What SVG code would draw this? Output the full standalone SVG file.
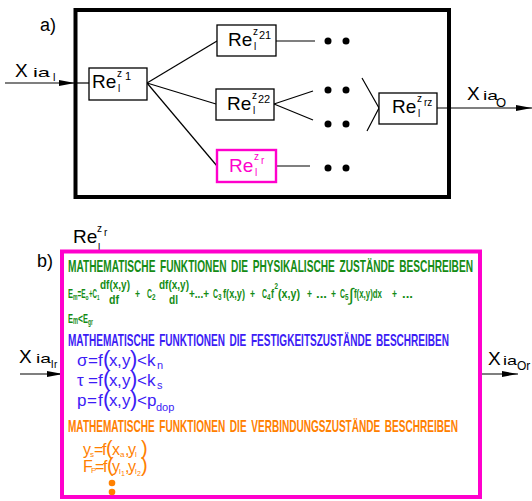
<svg xmlns="http://www.w3.org/2000/svg" width="532" height="501" viewBox="0 0 532 501">
<defs>
<style>
text{font-family:"Liberation Sans",Arial,sans-serif;fill:#000}
.n{font-family:"Liberation Sans",Arial,sans-serif}
.ttl{font-size:16.5px;font-weight:bold}
.box{fill:#fff;stroke:#000;stroke-width:1.3}
.mbox{fill:#fff;stroke:#ff00cc;stroke-width:2.4}
.ln{stroke:#000;stroke-width:1.2;fill:none}
.re{font-size:19px}
.sz{font-size:10px}
.sn{font-size:11px}
text.g,.g text{fill:#158c15}
text.b,.b text{fill:#3c1cf5}
text.o,.o text{fill:#ff8000}
text.m{fill:#ff00cc}
.dot{fill:#000}
</style>
<marker id="ah" markerWidth="16" markerHeight="7" refX="16" refY="3.5" orient="auto" markerUnits="userSpaceOnUse"><path d="M0,0.6 L16,3.5 L0,6.4 Z" fill="#000"/></marker>
</defs>
<rect x="0" y="0" width="532" height="501" fill="#fff"/>

<!-- part a -->
<text x="40" y="31" font-size="18">a)</text>
<rect id="frameA" x="75.5" y="10" width="373.5" height="187" fill="none" stroke="#000" stroke-width="4"/>

<g id="connectors">
<path class="ln" d="M5,83 H75" marker-end="url(#ah)"/>
<path class="ln" d="M75,83 H89"/>
<path class="ln" d="M147,83 L217,41"/>
<path class="ln" d="M147,83 L216,104"/>
<path class="ln" d="M147,83 L217,166"/>
<path class="ln" d="M276,41 H315"/>
<path class="ln" d="M274,104 L313,91"/>
<path class="ln" d="M274,104 L313,120"/>
<path class="ln" d="M276,166 H310"/>
<path class="ln" d="M362,78 L379,108 L367,131"/>
<path class="ln" d="M437,108 H532" marker-end="url(#ah)"/>
<path class="ln" d="M20,374 H63" marker-end="url(#ah)"/>
<path class="ln" d="M481,374 H518" marker-end="url(#ah)"/>
</g>

<g id="inA">
<text x="15" y="77" font-size="19">X</text>
<text x="33" y="77" font-size="13" textLength="17" lengthAdjust="spacingAndGlyphs">ia</text>
<text x="53" y="81" font-size="11">l</text>
</g>
<g id="outA">
<text x="467" y="100" font-size="19">X</text>
<text x="483" y="100" font-size="13" textLength="15" lengthAdjust="spacingAndGlyphs">ia</text>
<text x="496" y="107" font-size="13">O</text>
</g>

<g id="re1">
<rect class="box" x="89" y="68" width="58" height="32"/>
<text class="re" x="92" y="88">Re</text>
<text class="sz" x="117" y="77">z</text>
<text class="sn" x="125" y="80">1</text>
<text class="sz" x="118" y="92">l</text>
</g>
<g id="re21">
<rect class="box" x="217" y="25" width="59" height="31"/>
<text class="re" x="228" y="46">Re</text>
<text class="sz" x="253" y="35">z</text>
<text class="sn" x="259" y="39">21</text>
<text class="sz" x="254" y="50">l</text>
</g>
<g id="re22">
<rect class="box" x="216" y="89" width="58" height="31"/>
<text class="re" x="227" y="110">Re</text>
<text class="sz" x="252" y="99">z</text>
<text class="sn" x="258" y="103">22</text>
<text class="sz" x="253" y="114">l</text>
</g>
<g id="reR">
<rect class="mbox" x="217" y="150" width="59" height="32"/>
<text class="re m" x="229" y="172">Re</text>
<text class="sz m" x="254" y="160">z</text>
<text class="sz m" x="261" y="164">r</text>
<text class="sz m" x="255" y="176">l</text>
</g>
<g id="reRZ">
<rect class="box" x="379" y="93" width="58" height="31"/>
<text class="re" x="392" y="113">Re</text>
<text class="sz" x="417" y="102">z</text>
<text class="sz" x="424" y="106">rz</text>
<text class="sz" x="418" y="117">l</text>
</g>
<g id="dots">
<circle class="dot" cx="328" cy="41" r="3.5"/><circle class="dot" cx="346" cy="41" r="3.5"/>
<circle class="dot" cx="328" cy="90" r="3.5"/><circle class="dot" cx="346" cy="90" r="3.5"/>
<circle class="dot" cx="328" cy="124" r="3.5"/><circle class="dot" cx="346" cy="124" r="3.5"/>
<circle class="dot" cx="328" cy="168" r="3.5"/><circle class="dot" cx="346" cy="168" r="3.5"/>
</g>

<!-- part b -->
<text x="37" y="267" font-size="18">b)</text>
<g id="reRlabel">
<text class="re" x="73" y="243">Re</text>
<text class="sz" x="97" y="232">z</text>
<text class="sz" x="104" y="236">r</text>
<text class="sz" x="98" y="251">l</text>
</g>
<g id="inB">
<text x="19" y="363" font-size="19">X</text>
<text x="36" y="363" font-size="13" textLength="15" lengthAdjust="spacingAndGlyphs">ia</text>
<text x="51" y="368" font-size="11">l</text>
<text x="54" y="368" font-size="10">r</text>
</g>
<g id="outB">
<text x="488" y="365" font-size="19">X</text>
<text x="503" y="365" font-size="13" textLength="14" lengthAdjust="spacingAndGlyphs">ia</text>
<text x="517" y="370" font-size="12">Or</text>
</g>

<g id="blockB">
<rect x="62" y="251.5" width="418" height="245.5" fill="#fff" stroke="#ff00cc" stroke-width="4"/>

<text class="n g ttl" x="68" y="272" textLength="405" lengthAdjust="spacingAndGlyphs" word-spacing="3">MATHEMATISCHE FUNKTIONEN DIE PHYSIKALISCHE ZUSTÄNDE BESCHREIBEN</text>

<g class="g n" font-weight="bold" font-size="13">
<text x="68" y="298" textLength="5" lengthAdjust="spacingAndGlyphs">E</text>
<text x="73" y="300" font-size="9" textLength="4.5" lengthAdjust="spacingAndGlyphs">m</text>
<text x="77.5" y="298" textLength="8" lengthAdjust="spacingAndGlyphs">=E</text>
<text x="85.5" y="300" font-size="8" textLength="3" lengthAdjust="spacingAndGlyphs">o</text>
<text x="89" y="298" textLength="8" lengthAdjust="spacingAndGlyphs">+C</text>
<text x="97" y="300" font-size="8" textLength="2.5" lengthAdjust="spacingAndGlyphs">1</text>
<text x="100" y="289" textLength="30" lengthAdjust="spacingAndGlyphs">df(x,y)</text>
<text x="109" y="304" textLength="10" lengthAdjust="spacingAndGlyphs">df</text>
<text x="135" y="298" textLength="5" lengthAdjust="spacingAndGlyphs">+</text>
<text x="147" y="298" textLength="5" lengthAdjust="spacingAndGlyphs">C</text>
<text x="152" y="300" font-size="9" textLength="3.5" lengthAdjust="spacingAndGlyphs">2</text>
<text x="159" y="289" textLength="30" lengthAdjust="spacingAndGlyphs">df(x,y)</text>
<text x="169" y="304" textLength="9" lengthAdjust="spacingAndGlyphs">dl</text>
<text x="189" y="298" textLength="20" lengthAdjust="spacingAndGlyphs">+...+</text>
<text x="213" y="298" textLength="5" lengthAdjust="spacingAndGlyphs">C</text>
<text x="218" y="300" font-size="9" textLength="3.5" lengthAdjust="spacingAndGlyphs">3</text>
<text x="223" y="298" textLength="22" lengthAdjust="spacingAndGlyphs">f(x,y)</text>
<text x="250" y="298" textLength="5" lengthAdjust="spacingAndGlyphs">+</text>
<text x="262" y="298" textLength="5" lengthAdjust="spacingAndGlyphs">C</text>
<text x="267" y="300" font-size="9" textLength="3.5" lengthAdjust="spacingAndGlyphs">4</text>
<text x="271" y="298" textLength="3" lengthAdjust="spacingAndGlyphs">f</text>
<text x="274.5" y="289" font-size="9" textLength="3.5" lengthAdjust="spacingAndGlyphs">2</text>
<text x="278" y="298" textLength="22" lengthAdjust="spacingAndGlyphs">(x,y)</text>
<text x="307" y="298" textLength="5" lengthAdjust="spacingAndGlyphs">+</text>
<text x="316" y="298" textLength="11" lengthAdjust="spacingAndGlyphs">...</text>
<text x="331" y="298" textLength="5" lengthAdjust="spacingAndGlyphs">+</text>
<text x="340" y="298" textLength="5" lengthAdjust="spacingAndGlyphs">C</text>
<text x="345" y="300" font-size="9" textLength="3.5" lengthAdjust="spacingAndGlyphs">5</text>
<text x="349" y="301" font-size="18" font-weight="normal">∫</text>
<text x="354" y="298" textLength="28" lengthAdjust="spacingAndGlyphs">f(x,y)dx</text>
<text x="392" y="298" textLength="5" lengthAdjust="spacingAndGlyphs">+</text>
<text x="402" y="298" textLength="11" lengthAdjust="spacingAndGlyphs">...</text>
<text x="68" y="323" textLength="5" lengthAdjust="spacingAndGlyphs">E</text>
<text x="73" y="324" font-size="10" textLength="5" lengthAdjust="spacingAndGlyphs">m</text>
<text x="78" y="323" textLength="5" lengthAdjust="spacingAndGlyphs">&lt;</text>
<text x="83" y="323" textLength="5" lengthAdjust="spacingAndGlyphs">E</text>
<text x="88" y="325" font-size="9" textLength="5" lengthAdjust="spacingAndGlyphs">gr</text>
</g>

<text class="n b ttl" x="68" y="346" textLength="381" lengthAdjust="spacingAndGlyphs" word-spacing="3">MATHEMATISCHE FUNKTIONEN DIE FESTIGKEITSZUSTÄNDE BESCHREIBEN</text>
<g class="b" font-size="17">
<text y="366"><tspan x="77">σ</tspan><tspan x="88">=</tspan><tspan x="98">f</tspan><tspan x="103" font-size="22">(</tspan><tspan x="109">x</tspan><tspan x="117">,</tspan><tspan x="122">y</tspan><tspan x="130" font-size="22">)</tspan><tspan x="137">&lt;</tspan><tspan x="147">k</tspan><tspan x="157" y="369" font-size="11">n</tspan></text>
<text y="386"><tspan x="77">τ</tspan><tspan x="88">=</tspan><tspan x="98">f</tspan><tspan x="103" font-size="22">(</tspan><tspan x="109">x</tspan><tspan x="117">,</tspan><tspan x="122">y</tspan><tspan x="130" font-size="22">)</tspan><tspan x="137">&lt;</tspan><tspan x="147">k</tspan><tspan x="157" y="389" font-size="11">s</tspan></text>
<text y="406"><tspan x="77">p</tspan><tspan x="87">=</tspan><tspan x="98">f</tspan><tspan x="103" font-size="22">(</tspan><tspan x="109">x</tspan><tspan x="117">,</tspan><tspan x="122">y</tspan><tspan x="130" font-size="22">)</tspan><tspan x="137">&lt;</tspan><tspan x="147">p</tspan><tspan x="156" y="411" font-size="11">dop</tspan></text>
</g>

<text class="n o ttl" x="68" y="432" textLength="390" lengthAdjust="spacingAndGlyphs" word-spacing="3">MATHEMATISCHE FUNKTIONEN DIE VERBINDUNGSZUSTÄNDE BESCHREIBEN</text>
<g class="o" font-size="16">
<text y="455"><tspan x="83">y</tspan><tspan x="90" y="457" font-size="8">s</tspan><tspan x="94" y="455">=</tspan><tspan x="102">f</tspan><tspan x="106" font-size="20">(</tspan><tspan x="112">x</tspan><tspan x="120" y="457" font-size="8">a</tspan><tspan x="125" y="455">,</tspan><tspan x="128">y</tspan><tspan x="135" y="457" font-size="8">l</tspan><tspan x="141" y="455" font-size="20">)</tspan></text>
<text y="472"><tspan x="83">F</tspan><tspan x="91" y="473" font-size="8">P</tspan><tspan x="95" y="472">=</tspan><tspan x="103">f</tspan><tspan x="107" font-size="20">(</tspan><tspan x="112">y</tspan><tspan x="119" y="474" font-size="8">l</tspan><tspan x="121" y="476" font-size="7">1</tspan><tspan x="125" y="472">,</tspan><tspan x="128">y</tspan><tspan x="135" y="474" font-size="8">l</tspan><tspan x="137" y="476" font-size="7">2</tspan><tspan x="141" y="472" font-size="20">)</tspan></text>
<circle cx="112" cy="483" r="3.3" fill="#ff8000"/>
<circle cx="112" cy="492" r="3.3" fill="#ff8000"/>
</g>
</g>
</svg>
